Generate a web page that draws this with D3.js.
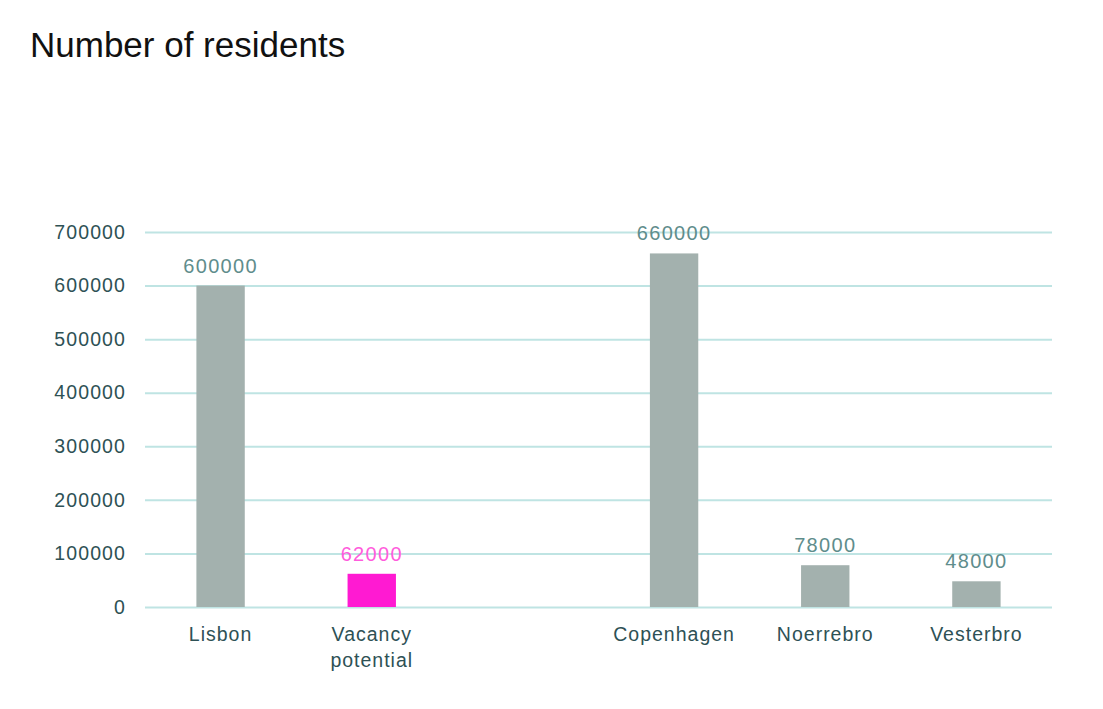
<!DOCTYPE html>
<html>
<head>
<meta charset="utf-8">
<script src="https://cdn.jsdelivr.net/npm/d3@7"></script>
<style>
  body { margin: 0; background: #fff; }
  text { font-family: "Liberation Sans", Arial, sans-serif; }
</style>
</head>
<body>
<div id="chart"></div>
<script>
  // chart data
  var categories = ['Lisbon', 'Vacancy potential', '', 'Copenhagen', 'Noerrebro', 'Vesterbro'];
  var values = [600000, 62000, null, 660000, 78000, 48000];
  var highlight = [false, true, false, false, false, false];
  var yTicks = [0, 100000, 200000, 300000, 400000, 500000, 600000, 700000];

  var data = categories.map(function(c, i) {
    return { name: c, value: values[i], hl: highlight[i] };
  });

  function translate(x, y) {
    return 'translate(' + x + ',' + y + ')';
  }

  var W = 1103, H = 709,
      margin = { top: 232, right: 51, bottom: 102, left: 145 },
      width = W - margin.left - margin.right,
      height = H - margin.top - margin.bottom;

  var x = d3.scaleBand()
      .domain(d3.range(categories.length))
      .range([0, width])
      .paddingInner(0.68)
      .paddingOuter(0.34);

  var y = d3.scaleLinear()
      .domain([0, 700000])
      .range([height, 0]);

  var svg = d3.select('#chart').append('svg')
      .attr('width', W)
      .attr('height', H);

  svg.append('text')
    .attr('x', 30)
    .attr('y', 57)
    .attr('font-size', 35)
    .attr('fill', '#111')
    .text('Number of residents');

  var g = svg.append('g')
    .attr('transform', translate(margin.left, margin.top));

  // gridlines + tick labels
  var yAxis = d3.axisLeft(y)
      .tickValues(yTicks)
      .tickSize(-width)
      .tickPadding(19)
      .tickFormat(d3.format('d'));

  g.append('g')
    .attr('class', 'y axis')
    .call(yAxis)
    .call(function(a) {
      a.select('.domain').remove();
      a.selectAll('line').attr('stroke', '#bfe4e3').attr('stroke-width', 2);
      a.selectAll('text')
        .attr('font-size', 19.5)
        .attr('letter-spacing', 1.1)
        .attr('fill', '#2e5155');
    });

  var bars = data.filter(function(d) { return d.value != null; });

  g.selectAll('rect.bar')
    .data(bars)
    .enter().append('rect')
      .attr('class', 'bar')
      .attr('x', function(d) { return x(categories.indexOf(d.name)); })
      .attr('width', x.bandwidth())
      .attr('y', function(d) { return y(d.value); })
      .attr('height', function(d) { return height - y(d.value); })
      .attr('fill', function(d) { return d.hl ? '#ff1ad2' : '#a3b1ae'; });

  g.selectAll('text.val')
    .data(bars)
    .enter().append('text')
      .attr('class', 'val')
      .attr('x', function(d) { return x(categories.indexOf(d.name)) + x.bandwidth() / 2; })
      .attr('y', function(d) { return y(d.value) - 13; })
      .attr('text-anchor', 'middle')
      .attr('font-size', 20)
      .attr('letter-spacing', 1.3)
      .attr('fill', function(d) { return d.hl ? '#ff5cdc' : '#5f8d8c'; })
      .text(function(d) { return d.value; });

  // category labels, split on space for two-line label
  var cat = g.selectAll('text.cat')
    .data(data.filter(function(d) { return d.name; }))
    .enter().append('text')
      .attr('class', 'cat')
      .attr('text-anchor', 'middle')
      .attr('font-size', 19.5)
      .attr('letter-spacing', 1)
      .attr('fill', '#2e5155')
      .attr('transform', function(d) {
        return translate(x(categories.indexOf(d.name)) + x.bandwidth() / 2, height + 34);
      });

  cat.selectAll('tspan')
    .data(function(d) { return d.name === 'Vacancy potential' ? ['Vacancy', 'potential'] : [d.name]; })
    .enter().append('tspan')
      .attr('x', 0)
      .attr('dy', function(d, i) { return i ? 26 : 0; })
      .text(function(d) { return d; });
</script>
</body>
</html>
